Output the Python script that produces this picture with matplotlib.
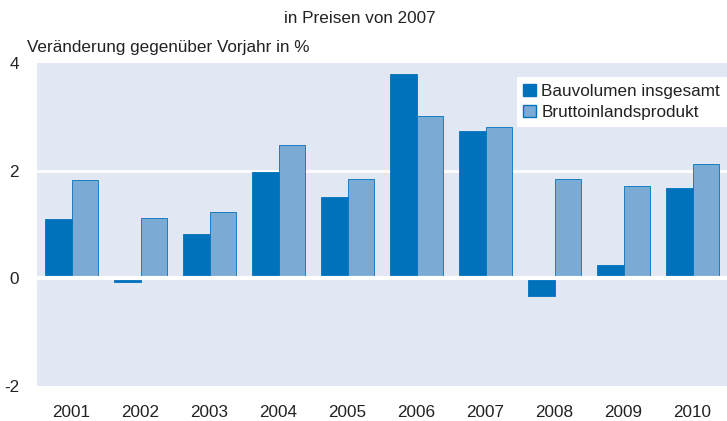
import numpy as np
import matplotlib
matplotlib.use("Agg")
import matplotlib.pyplot as plt
import matplotlib.patches as mpatches

plt.rcParams['font.family'] = ['Liberation Sans', 'DejaVu Sans']
plt.rcParams['axes.unicode_minus'] = False

years = ['2001', '2002', '2003', '2004', '2005', '2006', '2007', '2008', '2009', '2010']
bauvolumen = [1.10, -0.07, 0.82, 1.97, 1.52, 3.79, 2.73, -0.33, 0.24, 1.67]
bip = [1.82, 1.12, 1.23, 2.47, 1.84, 3.01, 2.81, 1.84, 1.71, 2.12]
labels = ['Bauvolumen insgesamt', 'Bruttoinlandsprodukt']

dark = '#0072BC'
light = '#7BAAD4'
bg = '#E1E8F4'
fs = 12.3

fig = plt.figure(figsize=(7.27, 4.21), dpi=100)
ax = fig.add_axes([0.0509, 0.0831, 0.9491, 0.7673])
ax.set_facecolor(bg)

x = np.arange(len(years))
w = 0.38
ax.bar(x - w / 2, bauvolumen, w, color=dark, edgecolor=dark, linewidth=0.6, zorder=2)
ax.bar(x + w / 2, bip, w, color=light, edgecolor=dark, linewidth=0.6, zorder=2)

# weisse Linien
ax.axhline(2, color='white', linewidth=2, zorder=1)
ax.axhline(0, color='white', linewidth=3, zorder=3)

ax.set_xlim(-0.5, len(years) - 0.5)
ax.set_ylim(-2, 4)
ax.set_yticks([-2, 0, 2, 4])
ax.set_xticks(x)
ax.set_xticklabels(years)
ax.tick_params(axis='both', length=0, labelsize=fs, colors='#222222')
ax.tick_params(axis='y', pad=13)
ax.tick_params(axis='x', pad=14)
for s in ax.spines.values():
    s.set_visible(False)

fig.text(0.495, 0.957, 'in Preisen von 2007', ha='center', va='center', fontsize=fs, color='#222222')
fig.text(0.037, 0.886, 'Veränderung gegenüber Vorjahr in %', ha='left', va='center', fontsize=fs, color='#222222')

cards = [mpatches.Patch(facecolor=dark, edgecolor=dark, label=labels[0]),
         mpatches.Patch(facecolor=light, edgecolor=dark, label=labels[1])]
leg = ax.legend(handles=cards, loc='upper right', bbox_to_anchor=(1.0, 0.957),
                frameon=True, fancybox=False, framealpha=1, edgecolor='white',
                fontsize=fs, handlelength=0.75, handleheight=0.75, handletextpad=0.3,
                borderaxespad=0, borderpad=0.4, labelspacing=0.35)
leg.get_frame().set_linewidth(0)
for t in leg.get_texts():
    t.set_color('#222222')

plt.savefig('out.png', dpi=100)
